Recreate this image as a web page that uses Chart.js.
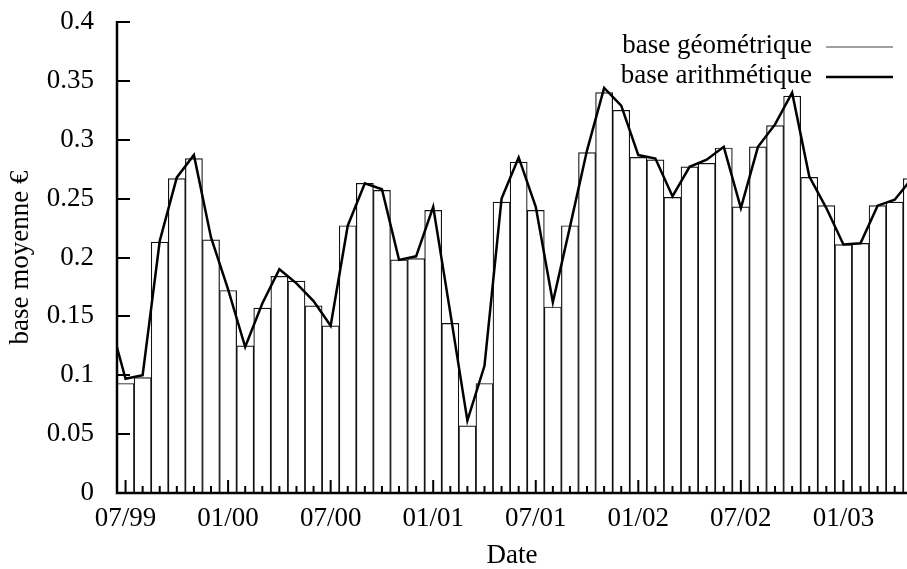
<!DOCTYPE html>
<html>
<head>
<meta charset="utf-8">
<script src="https://cdn.jsdelivr.net/npm/chart.js@4/dist/chart.umd.min.js"></script>
<style>
  html, body { margin: 0; padding: 0; background: #fff; }
  #wrap { width: 907px; height: 569px; }
</style>
</head>
<body>
<div id="wrap"><canvas id="c" width="907" height="569"></canvas></div>
<script>
// Month of each value (06/99 only carries the start of the arithmetic line)
const months = [
  "06/99","07/99","08/99","09/99","10/99","11/99","12/99",
  "01/00","02/00","03/00","04/00","05/00","06/00","07/00","08/00","09/00","10/00","11/00","12/00",
  "01/01","02/01","03/01","04/01","05/01","06/01","07/01","08/01","09/01","10/01","11/01","12/01",
  "01/02","02/02","03/02","04/02","05/02","06/02","07/02","08/02","09/02","10/02","11/02","12/02",
  "01/03","02/03","03/03","04/03","05/03"
];
// base géométrique (bars)
const geometricBase = [
  null, 0.093, 0.098, 0.213, 0.267, 0.284, 0.215,
  0.172, 0.125, 0.157, 0.184, 0.180, 0.159, 0.142, 0.227, 0.263, 0.257, 0.198, 0.199,
  0.240, 0.144, 0.057, 0.093, 0.247, 0.281, 0.240, 0.158, 0.227, 0.289, 0.340, 0.325,
  0.285, 0.283, 0.251, 0.277, 0.280, 0.293, 0.243, 0.294, 0.312, 0.337, 0.268, 0.244,
  0.211, 0.212, 0.244, 0.247, 0.267
];
// base arithmétique (line)
const arithmeticBase = [
  0.150, 0.097, 0.100, 0.214, 0.268, 0.287, 0.217,
  0.173, 0.124, 0.161, 0.190, 0.178, 0.163, 0.142, 0.227, 0.263, 0.258, 0.198, 0.201,
  0.243, 0.153, 0.0615, 0.108, 0.250, 0.285, 0.243, 0.162, 0.226, 0.291, 0.344, 0.329,
  0.287, 0.284, 0.252, 0.277, 0.283, 0.294, 0.242, 0.294, 0.313, 0.340, 0.269, 0.242,
  0.211, 0.212, 0.244, 0.249, 0.267
];
const xTickLabels = ["07/99","01/00","07/00","01/01","07/01","01/02","07/02","01/03"];
const yTicks = [0, 0.05, 0.1, 0.15, 0.2, 0.25, 0.3, 0.35, 0.4];
const yTickLabels = ["0","0.05","0.1","0.15","0.2","0.25","0.3","0.35","0.4"];

const FONT = "'Liberation Serif', 'Times New Roman', serif";
const FS = 27;

const gnuplotDecor = {
  id: 'gnuplotDecor',
  afterDatasetsDraw(chart) {
    const { ctx, chartArea: { left, right, top, bottom }, scales: { x, y } } = chart;
    ctx.save();
    ctx.strokeStyle = '#000';
    ctx.lineCap = 'butt';
    // y ticks (inward)
    ctx.lineWidth = 2;
    ctx.beginPath();
    yTicks.forEach(v => {
      const py = Math.round(y.getPixelForValue(v));
      if (v === 0) return;
      ctx.moveTo(left, py); ctx.lineTo(left + 13, py);
    });
    // x ticks (inward), long ones at labelled months
    months.forEach((m, i) => {
      const px = x.getPixelForValue(i);
      if (px < left + 1 || px > right) return;
      const len = xTickLabels.includes(m) ? 13 : 7;
      ctx.moveTo(px, bottom); ctx.lineTo(px, bottom - len);
    });
    ctx.stroke();
    // axis lines
    ctx.lineWidth = 2.5;
    ctx.beginPath();
    ctx.moveTo(left, top - 1); ctx.lineTo(left, bottom); ctx.lineTo(right, bottom);
    ctx.stroke();
    // legend (text right-aligned, sample on the right)
    const rows = [46, 76];
    ctx.font = FS + 'px ' + FONT;
    ctx.textAlign = 'right';
    ctx.textBaseline = 'middle';
    ctx.fillStyle = '#000';
    chart.data.datasets.forEach((ds, i) => {
      const ry = rows[i];
      ctx.fillText(ds.label, 812, ry);
      ctx.beginPath();
      ctx.strokeStyle = ds.legendColor;
      ctx.lineWidth = ds.legendWidth;
      ctx.moveTo(826, ry + 1); ctx.lineTo(893, ry + 1);
      ctx.stroke();
    });
    ctx.restore();
  }
};

const xs = months.map((_, i) => i);

new Chart(document.getElementById('c'), {
  type: 'bar',
  data: {
    datasets: [
      {
        type: 'bar',
        label: 'base géométrique',
        data: xs.map(i => ({ x: i, y: geometricBase[i] })),
        backgroundColor: '#ffffff',
        borderColor: '#111111',
        borderWidth: 1.2,
        borderSkipped: 'bottom',
        barPercentage: 1,
        categoryPercentage: 1,
        legendColor: '#808080',
        legendWidth: 1.5,
        order: 2
      },
      {
        type: 'line',
        label: 'base arithmétique',
        data: xs.map(i => ({ x: i, y: arithmeticBase[i] })),
        borderColor: '#000',
        borderWidth: 2.5,
        pointRadius: 0,
        tension: 0,
        fill: false,
        legendColor: '#000',
        legendWidth: 2.5,
        order: 1
      }
    ]
  },
  options: {
    responsive: false,
    devicePixelRatio: 1,
    animation: false,
    layout: { padding: { top: 22, right: 0, bottom: 0, left: 0 } },
    plugins: { legend: { display: false }, tooltip: { enabled: false } },
    scales: {
      x: {
        type: 'linear',
        min: 0.5,
        max: 46.72,
        bounds: 'data',
        offset: false,
        grid: { display: false, offset: false },
        border: { display: false },
        afterBuildTicks: s => { s.ticks = xTickLabels.map(l => ({ value: months.indexOf(l) })); },
        afterFit: s => { s.height = 76; s.paddingLeft = 0; s.paddingRight = 0; },
        ticks: {
          callback: v => months[v],
          font: { family: FONT, size: FS },
          color: '#000',
          padding: 2,
          maxRotation: 0,
          autoSkip: false
        },
        title: {
          display: true,
          text: 'Date',
          font: { family: FONT, size: FS, lineHeight: 1 },
          color: '#000',
          padding: { top: 0, bottom: 0 }
        }
      },
      y: {
        min: 0,
        max: 0.4,
        bounds: 'data',
        grid: { display: false },
        border: { display: false },
        afterBuildTicks: s => { s.ticks = yTicks.map(v => ({ value: v })); },
        afterFit: s => { s.width = 117; s.paddingTop = 0; s.paddingBottom = 0; },
        ticks: {
          callback: v => yTickLabels[yTicks.indexOf(v)],
          font: { family: FONT, size: FS },
          color: '#000',
          padding: 15
        },
        title: {
          display: true,
          text: 'base moyenne €',
          font: { family: FONT, size: FS, lineHeight: 1 },
          color: '#000',
          padding: { top: 7, bottom: 0 }
        }
      }
    }
  },
  plugins: [gnuplotDecor]
});
</script>
</body>
</html>
